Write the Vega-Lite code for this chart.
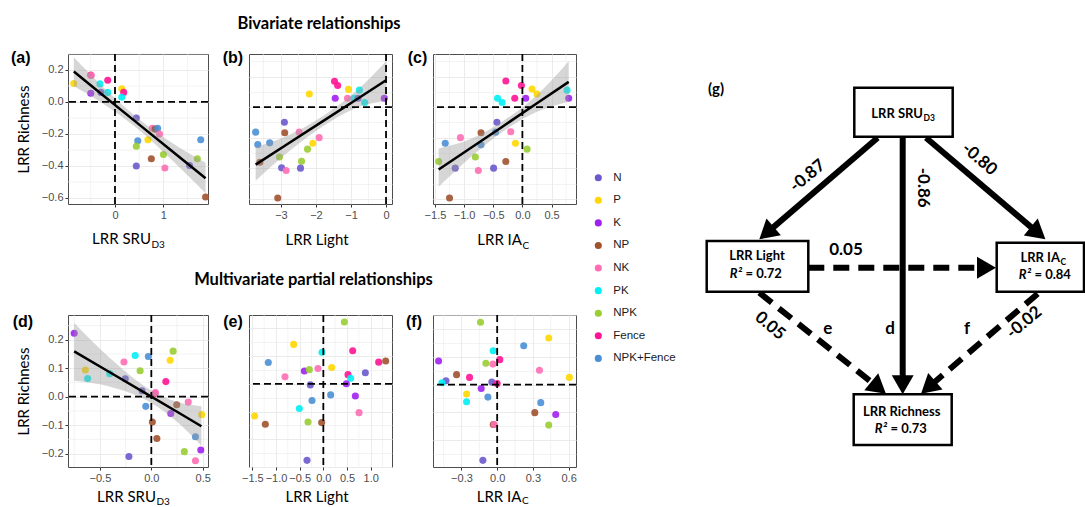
{
"$schema": "https://vega.github.io/schema/vega-lite/v6.json",
"padding": {"left": 10, "top": 15, "right": 0, "bottom": 0},
"background": "white",
"bounds": "flush",
"spacing": 513,
"config": {
  "font": "Liberation Sans",
  "view": {"stroke": "#4D4D4D", "strokeWidth": 1},
  "axis": {"domain": false, "tickCount": 30, "labelFont": "Liberation Sans", "labelFontSize": 11, "labelColor": "#4D4D4D", "tickColor": "#333333", "tickSize": 3, "tickWidth": 1, "labelPadding": 2, "gridColor": "#EBEBEB", "gridWidth": 1, "titleFont": "Lato", "titleFontSize": 15, "titleFontWeight": "normal", "titleColor": "#000000", "labelOverlap": false, "labelFlush": false}
},
"datasets": {
  "one": [{"v": 0}],
  "a_mx": [{"v": -0.5}, {"v": 0.5}, {"v": 1.5}],
  "a_my": [{"v": -0.5}, {"v": -0.3}, {"v": -0.1}, {"v": 0.1}, {"v": 0.3}],
  "b_mx": [{"v": -3.5}, {"v": -2.5}, {"v": -1.5}, {"v": -0.5}],
  "c_mx": [{"v": -1.25}, {"v": -0.75}, {"v": -0.25}, {"v": 0.25}, {"v": 0.75}],
  "d_mx": [{"v": -0.75}, {"v": -0.25}, {"v": 0.25}],
  "d_my": [{"v": -0.15}, {"v": -0.05}, {"v": 0.05}, {"v": 0.15}, {"v": 0.25}],
  "e_mx": [{"v": -1.25}, {"v": -0.75}, {"v": -0.25}, {"v": 0.25}, {"v": 0.75}, {"v": 1.25}],
  "f_mx": [{"v": -0.45}, {"v": -0.15}, {"v": 0.15}, {"v": 0.45}],
  "a": [
    {"x":-0.85,"y":0.115,"t":"P"},{"x":-0.50,"y":0.168,"t":"Fence"},{"x":-0.49,"y":0.166,"t":"NK"},{"x":-0.50,"y":0.055,"t":"K"},
    {"x":-0.31,"y":0.113,"t":"PK"},{"x":-0.29,"y":0.06,"t":"N"},{"x":-0.15,"y":0.136,"t":"Fence"},{"x":-0.15,"y":0.06,"t":"PK"},
    {"x":0.14,"y":0.083,"t":"P"},{"x":0.18,"y":0.06,"t":"Fence"},{"x":0.14,"y":0.03,"t":"PK"},{"x":0.44,"y":-0.10,"t":"N"},
    {"x":0.47,"y":-0.243,"t":"NPK+Fence"},{"x":0.44,"y":-0.277,"t":"NPK"},{"x":0.44,"y":-0.40,"t":"N"},{"x":0.68,"y":-0.236,"t":"P"},
    {"x":0.75,"y":-0.355,"t":"NP"},{"x":0.77,"y":-0.164,"t":"NK"},{"x":0.83,"y":-0.17,"t":"NP"},{"x":0.88,"y":-0.164,"t":"NPK+Fence"},
    {"x":0.92,"y":-0.20,"t":"NK"},{"x":1.0,"y":-0.328,"t":"NPK"},{"x":1.03,"y":-0.413,"t":"NK"},{"x":1.54,"y":-0.398,"t":"N"},
    {"x":1.70,"y":-0.355,"t":"NPK"},{"x":1.77,"y":-0.236,"t":"NPK+Fence"},{"x":1.87,"y":-0.594,"t":"NP"}
  ],
  "a_fit": [
    {"x":-0.85,"fit":0.19,"lo":0.098,"hi":0.28},{"x":-0.3,"fit":0.055,"lo":0.0,"hi":0.11},{"x":0.45,"fit":-0.129,"lo":-0.163,"hi":-0.095},
    {"x":1.2,"fit":-0.313,"lo":-0.37,"hi":-0.26},{"x":1.87,"fit":-0.477,"lo":-0.57,"hi":-0.38}
  ],
  "b": [
    {"x":-1.47,"y":0.169,"t":"Fence"},{"x":-1.38,"y":0.141,"t":"Fence"},{"x":-2.19,"y":0.086,"t":"P"},{"x":-1.45,"y":0.058,"t":"K"},
    {"x":-1.07,"y":0.116,"t":"P"},{"x":-0.76,"y":0.111,"t":"PK"},{"x":-1.10,"y":0.058,"t":"NK"},{"x":-0.91,"y":0.058,"t":"PK"},
    {"x":-0.80,"y":0.058,"t":"N"},{"x":-0.61,"y":0.03,"t":"PK"},{"x":-0.05,"y":0.058,"t":"K"},{"x":-2.90,"y":-0.098,"t":"N"},
    {"x":-3.72,"y":-0.163,"t":"NPK+Fence"},{"x":-2.89,"y":-0.167,"t":"NP"},{"x":-2.48,"y":-0.163,"t":"NK"},{"x":-3.66,"y":-0.244,"t":"NPK+Fence"},
    {"x":-3.32,"y":-0.233,"t":"NPK+Fence"},{"x":-1.91,"y":-0.199,"t":"NK"},{"x":-2.09,"y":-0.236,"t":"P"},{"x":-2.24,"y":-0.274,"t":"NPK"},
    {"x":-3.04,"y":-0.325,"t":"NPK"},{"x":-2.41,"y":-0.353,"t":"NPK"},{"x":-3.60,"y":-0.36,"t":"NP"},{"x":-2.98,"y":-0.396,"t":"N"},
    {"x":-2.85,"y":-0.413,"t":"NK"},{"x":-2.44,"y":-0.398,"t":"N"},{"x":-3.09,"y":-0.593,"t":"NP"}
  ],
  "b_fit": [
    {"x":-3.72,"fit":-0.375,"lo":-0.48,"hi":-0.26},{"x":-2.8,"fit":-0.239,"lo":-0.295,"hi":-0.185},{"x":-1.8,"fit":-0.091,"lo":-0.125,"hi":-0.057},
    {"x":-0.8,"fit":0.057,"lo":0.0,"hi":0.115},{"x":0.0,"fit":0.176,"lo":0.04,"hi":0.30}
  ],
  "c": [
    {"x":-0.284,"y":0.171,"t":"Fence"},{"x":-0.017,"y":0.141,"t":"Fence"},{"x":0.165,"y":0.118,"t":"P"},{"x":0.25,"y":0.086,"t":"P"},
    {"x":0.767,"y":0.111,"t":"PK"},{"x":0.795,"y":0.058,"t":"K"},{"x":-0.426,"y":0.058,"t":"PK"},{"x":-0.347,"y":0.03,"t":"PK"},
    {"x":-0.131,"y":0.058,"t":"Fence"},{"x":0.057,"y":0.058,"t":"K"},{"x":-0.437,"y":-0.098,"t":"N"},{"x":-0.71,"y":-0.167,"t":"NP"},
    {"x":-0.46,"y":-0.163,"t":"NPK+Fence"},{"x":-0.199,"y":-0.161,"t":"NK"},{"x":-1.324,"y":-0.236,"t":"NPK+Fence"},{"x":-1.063,"y":-0.199,"t":"NK"},
    {"x":-0.71,"y":-0.246,"t":"NPK+Fence"},{"x":-0.119,"y":-0.236,"t":"P"},{"x":0.08,"y":-0.274,"t":"NPK"},{"x":-0.807,"y":-0.325,"t":"NPK"},
    {"x":-1.437,"y":-0.355,"t":"NPK"},{"x":-1.153,"y":-0.398,"t":"N"},{"x":-0.756,"y":-0.413,"t":"NK"},{"x":-0.494,"y":-0.398,"t":"N"},
    {"x":-0.284,"y":-0.355,"t":"NP"},{"x":-1.25,"y":-0.593,"t":"NP"}
  ],
  "c_fit": [
    {"x":-1.437,"fit":-0.407,"lo":-0.52,"hi":-0.27},{"x":-0.9,"fit":-0.27,"lo":-0.33,"hi":-0.21},{"x":-0.35,"fit":-0.129,"lo":-0.163,"hi":-0.095},
    {"x":0.25,"fit":0.025,"lo":-0.03,"hi":0.08},{"x":0.795,"fit":0.165,"lo":0.036,"hi":0.30}
  ],
  "d": [
    {"x":-0.75,"y":0.223,"t":"K"},{"x":-0.641,"y":0.094,"t":"P"},{"x":-0.619,"y":0.064,"t":"PK"},{"x":-0.404,"y":0.081,"t":"PK"},
    {"x":-0.253,"y":0.063,"t":"N"},{"x":-0.266,"y":0.122,"t":"NK"},{"x":-0.157,"y":0.145,"t":"PK"},{"x":-0.109,"y":0.091,"t":"NPK"},
    {"x":-0.029,"y":0.141,"t":"NPK+Fence"},{"x":-0.09,"y":0.021,"t":"N"},{"x":-0.054,"y":-0.034,"t":"NPK+Fence"},{"x":0.035,"y":0.011,"t":"Fence"},
    {"x":0.04,"y":0.015,"t":"NK"},{"x":0.01,"y":-0.089,"t":"NP"},{"x":0.054,"y":-0.147,"t":"NP"},{"x":-0.218,"y":-0.21,"t":"N"},
    {"x":0.141,"y":0.053,"t":"Fence"},{"x":0.183,"y":0.128,"t":"P"},{"x":0.212,"y":0.16,"t":"NPK"},{"x":0.247,"y":-0.028,"t":"NP"},
    {"x":0.189,"y":-0.059,"t":"K"},{"x":0.359,"y":-0.019,"t":"NK"},{"x":0.49,"y":-0.063,"t":"P"},{"x":0.429,"y":-0.141,"t":"NPK+Fence"},
    {"x":0.321,"y":-0.193,"t":"NPK"},{"x":0.481,"y":-0.187,"t":"K"},{"x":0.429,"y":-0.225,"t":"NK"}
  ],
  "d_fit": [
    {"x":-0.75,"fit":0.159,"lo":0.056,"hi":0.259},{"x":-0.4,"fit":0.085,"lo":0.035,"hi":0.135},{"x":0.0,"fit":0.0,"lo":-0.022,"hi":0.022},
    {"x":0.25,"fit":-0.053,"lo":-0.088,"hi":-0.018},{"x":0.487,"fit":-0.104,"lo":-0.172,"hi":-0.034}
  ],
  "e": [
    {"x":0.444,"y":0.223,"t":"NPK"},{"x":-0.627,"y":0.142,"t":"P"},{"x":-0.028,"y":0.114,"t":"PK"},{"x":0.62,"y":0.119,"t":"Fence"},
    {"x":-1.162,"y":0.077,"t":"NPK+Fence"},{"x":1.169,"y":0.078,"t":"Fence"},{"x":1.317,"y":0.082,"t":"NP"},{"x":-0.401,"y":0.046,"t":"K"},
    {"x":-0.296,"y":0.051,"t":"NPK"},{"x":-0.113,"y":0.055,"t":"NK"},{"x":0.176,"y":0.059,"t":"P"},{"x":-0.81,"y":0.025,"t":"NK"},
    {"x":0.887,"y":0.04,"t":"N"},{"x":0.521,"y":0.033,"t":"Fence"},{"x":0.577,"y":0.02,"t":"PK"},{"x":-0.275,"y":-0.004,"t":"N"},
    {"x":0.486,"y":0.0,"t":"K"},{"x":0.155,"y":-0.04,"t":"NPK+Fence"},{"x":0.676,"y":-0.044,"t":"K"},{"x":-0.239,"y":-0.06,"t":"NPK+Fence"},
    {"x":-0.507,"y":-0.089,"t":"PK"},{"x":0.754,"y":-0.104,"t":"NK"},{"x":-1.451,"y":-0.116,"t":"P"},{"x":-1.225,"y":-0.146,"t":"NP"},
    {"x":-0.324,"y":-0.138,"t":"NPK"},{"x":-0.035,"y":-0.14,"t":"NP"},{"x":-0.345,"y":-0.276,"t":"N"}
  ],
  "f": [
    {"x":-0.14,"y":0.225,"t":"NPK"},{"x":0.433,"y":0.168,"t":"P"},{"x":0.223,"y":0.14,"t":"NPK+Fence"},{"x":-0.034,"y":0.122,"t":"PK"},
    {"x":-0.492,"y":0.085,"t":"K"},{"x":0.022,"y":0.09,"t":"Fence"},{"x":-0.095,"y":0.077,"t":"NPK"},{"x":-0.036,"y":0.074,"t":"NK"},
    {"x":0.355,"y":0.052,"t":"NK"},{"x":-0.341,"y":0.036,"t":"NP"},{"x":-0.232,"y":0.026,"t":"Fence"},{"x":-0.43,"y":0.014,"t":"N"},
    {"x":-0.464,"y":0.007,"t":"PK"},{"x":0.606,"y":0.026,"t":"P"},{"x":-0.045,"y":0.009,"t":"N"},{"x":0.0,"y":0.004,"t":"Fence"},
    {"x":-0.134,"y":-0.014,"t":"K"},{"x":-0.257,"y":-0.034,"t":"P"},{"x":-0.078,"y":-0.045,"t":"NPK+Fence"},{"x":-0.257,"y":-0.062,"t":"PK"},
    {"x":0.366,"y":-0.065,"t":"NPK+Fence"},{"x":0.316,"y":-0.101,"t":"NP"},{"x":0.492,"y":-0.108,"t":"K"},{"x":-0.033,"y":-0.144,"t":"NP"},
    {"x":-0.025,"y":-0.144,"t":"NK"},{"x":0.433,"y":-0.146,"t":"NPK"},{"x":-0.12,"y":-0.273,"t":"N"}
  ],
  "leg": [
    {"t":"N","pos":0},{"t":"P","pos":1},{"t":"K","pos":2},{"t":"NP","pos":3},{"t":"NK","pos":4},
    {"t":"PK","pos":5},{"t":"NPK","pos":6},{"t":"Fence","pos":7},{"t":"NPK+Fence","pos":8}
  ],
  "boxes": [
    {"x":853.3,"x2":951.7,"y":86.7,"y2":135.7},{"x":705.7,"x2":807.3,"y":240,"y2":290.7},
    {"x":995.7,"x2":1083,"y":241.7,"y2":290.7},{"x":852.7,"x2":950.7,"y":393.3,"y2":444}
  ],
  "edges": [
    {"id":"sl","type":"solid","x":876.7,"y":136.7,"x2":765.5,"y2":232.1},
    {"id":"si","type":"solid","x":925,"y":136.7,"x2":1037.1,"y2":232.1},
    {"id":"sr","type":"solid","x":901.7,"y":136.7,"x2":901.7,"y2":383.8},
    {"id":"li","type":"dashed","x":807.3,"y":266.7,"x2":985.5,"y2":266.7},
    {"id":"lr","type":"dashed","x":758.3,"y":291.7,"x2":877.6,"y2":386.8},
    {"id":"ir","type":"dashed","x":1036.7,"y":292.7,"x2":927.2,"y2":386.5}
  ],
  "dlab": [
    {"t":"0.05","x":845,"y":249,"edge":"li"},{"t":"e","x":826.7,"y":328.3,"edge":"e"},{"t":"d","x":889,"y":328.3,"edge":"d"},
    {"t":"f","x":966,"y":328.3,"edge":"f"},{"t":"-0.87","x":806.7,"y":175,"edge":"sl"},{"t":"-0.02","x":1023.3,"y":321.7,"edge":"ir"},
    {"t":"-0.86","x":922,"y":186.7,"edge":"sr"},{"t":"-0.80","x":978.3,"y":158.3,"edge":"si"},{"t":"0.05","x":769,"y":325,"edge":"lr"},
    {"t":"(g)","x":715,"y":88.3,"edge":"g"}
  ],
  "btext": [
    {"t":"LRR Light","x":756,"y":255,"role":"c"},{"t":"LRR Richness","x":900.7,"y":410.7,"role":"c"},
    {"t":"LRR SRU","x":922,"y":112.7,"role":"r"},{"t":"D3","x":922.5,"y":116.5,"role":"sub"},
    {"t":"LRR IA","x":1059,"y":256.7,"role":"r"},{"t":"C","x":1059.5,"y":260.5,"role":"sub"},
    {"t":"R²","x":741,"y":273.3,"role":"ri"},{"t":"= 0.72","x":744.5,"y":273.3,"role":"l"},
    {"t":"R²","x":1030,"y":274,"role":"ri"},{"t":"= 0.84","x":1033.5,"y":274,"role":"l"},
    {"t":"R²","x":886,"y":428.3,"role":"ri"},{"t":"= 0.73","x":889.5,"y":428.3,"role":"l"}
  ]
},
"hconcat": [
 {"vconcat": [
  {"bounds": "flush", "spacing": 41,
   "hconcat": [
    {"width": 140, "height": 150,
     "layer": [
      {"data": {"name": "a_mx"}, "mark": {"type": "rule", "color": "#EBEBEB", "strokeWidth": 0.6},
       "encoding": {"x": {"field": "v", "type": "quantitative", "scale": {"domain": [-0.97, 1.92], "nice": false, "zero": false}}}},
      {"data": {"name": "a_my"}, "mark": {"type": "rule", "color": "#EBEBEB", "strokeWidth": 0.6},
       "encoding": {"y": {"field": "v", "type": "quantitative", "scale": {"domain": [-0.638, 0.30], "nice": false, "zero": false}}}},
      {"data": {"name": "a"}, "mark": {"type": "circle", "size": 50, "opacity": 0.9},
       "encoding": {
        "x": {"field": "x", "type": "quantitative", "scale": {"domain": [-0.97, 1.92], "nice": false, "zero": false},
              "axis": {"title": null, "tickCount": 30, "labelOverlap": false, "labelFlush": false, "values": [0, 1], "format": ".0f"}},
        "y": {"field": "y", "type": "quantitative", "scale": {"domain": [-0.638, 0.30], "nice": false, "zero": false},
              "axis": {"title": "LRR Richness", "titlePadding": 10, "tickCount": 30, "labelOverlap": false, "labelFlush": false, "values": [-0.6, -0.4, -0.2, 0, 0.2], "format": ".1f"}},
        "color": {"field": "t", "type": "nominal", "scale": {"domain": ["N","P","K","NP","NK","PK","NPK","Fence","NPK+Fence"], "range": ["#6A5ACD","#FFD700","#A020F0","#A0522D","#FF6EB4","#00F0F5","#9ACD32","#FF1493","#4A8FD6"]}, "legend": null}}},
      {"data": {"name": "a_fit"}, "mark": {"type": "area", "color": "#999999", "opacity": 0.4, "interpolate": "monotone"},
       "encoding": {"x": {"field": "x", "type": "quantitative", "scale": {"domain": [-0.97, 1.92], "nice": false, "zero": false}},
                    "y": {"field": "lo", "type": "quantitative", "scale": {"domain": [-0.638, 0.30], "nice": false, "zero": false}},
                    "y2": {"field": "hi"}}},
      {"data": {"name": "one"}, "mark": {"type": "rule", "color": "black", "strokeWidth": 1.8, "strokeDash": [7, 4]},
       "encoding": {"x": {"field": "v", "type": "quantitative", "scale": {"domain": [-0.97, 1.92], "nice": false, "zero": false}}}},
      {"data": {"name": "one"}, "mark": {"type": "rule", "color": "black", "strokeWidth": 1.8, "strokeDash": [7, 4]},
       "encoding": {"y": {"field": "v", "type": "quantitative", "scale": {"domain": [-0.638, 0.30], "nice": false, "zero": false}}}},
      {"data": {"name": "a_fit"}, "mark": {"type": "line", "color": "black", "strokeWidth": 2.5},
       "encoding": {"x": {"field": "x", "type": "quantitative", "scale": {"domain": [-0.97, 1.92], "nice": false, "zero": false}},
                    "y": {"field": "fit", "type": "quantitative", "scale": {"domain": [-0.638, 0.30], "nice": false, "zero": false}}}},
      {"data": {"name": "one"}, "mark": {"type": "text", "text": "LRR SRU", "align": "right", "baseline": "alphabetic", "font": "Lato", "fontSize": 15, "color": "black"},
       "encoding": {"x": {"datum": 0.743, "type": "quantitative", "scale": {"domain": [-0.97, 1.92], "nice": false, "zero": false}},
                    "y": {"datum": -0.89, "type": "quantitative", "scale": {"domain": [-0.638, 0.30], "nice": false, "zero": false}}}},
      {"data": {"name": "one"}, "mark": {"type": "text", "text": "D3", "align": "left", "baseline": "alphabetic", "font": "Lato", "fontSize": 10, "color": "black"},
       "encoding": {"x": {"datum": 0.753, "type": "quantitative", "scale": {"domain": [-0.97, 1.92], "nice": false, "zero": false}},
                    "y": {"datum": -0.913, "type": "quantitative", "scale": {"domain": [-0.638, 0.30], "nice": false, "zero": false}}}},
      {"data": {"name": "one"}, "mark": {"type": "text", "text": "(a)", "align": "left", "baseline": "alphabetic", "font": "Liberation Sans", "fontWeight": "bold", "fontSize": 16, "color": "black"},
       "encoding": {"x": {"datum": -2.147, "type": "quantitative", "scale": {"domain": [-0.97, 1.92], "nice": false, "zero": false}},
                    "y": {"datum": 0.2437, "type": "quantitative", "scale": {"domain": [-0.638, 0.30], "nice": false, "zero": false}}}}
     ]},
    {"width": 143, "height": 150,
     "layer": [
      {"data": {"name": "b_mx"}, "mark": {"type": "rule", "color": "#EBEBEB", "strokeWidth": 0.6},
       "encoding": {"x": {"field": "v", "type": "quantitative", "scale": {"domain": [-3.91, 0.17], "nice": false, "zero": false}}}},
      {"data": {"name": "b"}, "mark": {"type": "circle", "size": 50, "opacity": 0.9},
       "encoding": {
        "x": {"field": "x", "type": "quantitative", "scale": {"domain": [-3.91, 0.17], "nice": false, "zero": false},
              "axis": {"title": null, "tickCount": 30, "labelOverlap": false, "labelFlush": false, "values": [-3, -2, -1, 0], "format": ".0f"}},
        "y": {"field": "y", "type": "quantitative", "scale": {"domain": [-0.632, 0.347], "nice": false, "zero": false},
              "axis": {"title": null, "labels": false, "ticks": false, "tickCount": 30, "values": [-0.6, -0.5, -0.4, -0.3, -0.2, -0.1, 0, 0.1, 0.2, 0.3],
                       "gridWidth": {"condition": {"test": "abs(datum.value/0.2-round(datum.value/0.2))<0.001", "value": 1}, "value": 0.6}}},
        "color": {"field": "t", "type": "nominal", "scale": {"domain": ["N","P","K","NP","NK","PK","NPK","Fence","NPK+Fence"], "range": ["#6A5ACD","#FFD700","#A020F0","#A0522D","#FF6EB4","#00F0F5","#9ACD32","#FF1493","#4A8FD6"]}, "legend": null}}},
      {"data": {"name": "b_fit"}, "mark": {"type": "area", "color": "#999999", "opacity": 0.4, "interpolate": "monotone"},
       "encoding": {"x": {"field": "x", "type": "quantitative", "scale": {"domain": [-3.91, 0.17], "nice": false, "zero": false}},
                    "y": {"field": "lo", "type": "quantitative", "scale": {"domain": [-0.632, 0.347], "nice": false, "zero": false}},
                    "y2": {"field": "hi"}}},
      {"data": {"name": "one"}, "mark": {"type": "rule", "color": "black", "strokeWidth": 1.8, "strokeDash": [7, 4]},
       "encoding": {"x": {"field": "v", "type": "quantitative", "scale": {"domain": [-3.91, 0.17], "nice": false, "zero": false}}}},
      {"data": {"name": "one"}, "mark": {"type": "rule", "color": "black", "strokeWidth": 1.8, "strokeDash": [7, 4]},
       "encoding": {"y": {"field": "v", "type": "quantitative", "scale": {"domain": [-0.632, 0.347], "nice": false, "zero": false}}}},
      {"data": {"name": "b_fit"}, "mark": {"type": "line", "color": "black", "strokeWidth": 2.5},
       "encoding": {"x": {"field": "x", "type": "quantitative", "scale": {"domain": [-3.91, 0.17], "nice": false, "zero": false}},
                    "y": {"field": "fit", "type": "quantitative", "scale": {"domain": [-0.632, 0.347], "nice": false, "zero": false}}}},
      {"data": {"name": "one"}, "mark": {"type": "text", "text": "LRR Light", "align": "center", "baseline": "alphabetic", "font": "Lato", "fontSize": 15, "color": "black"},
       "encoding": {"x": {"datum": -1.97, "type": "quantitative", "scale": {"domain": [-3.91, 0.17], "nice": false, "zero": false}},
                    "y": {"datum": -0.90, "type": "quantitative", "scale": {"domain": [-0.632, 0.347], "nice": false, "zero": false}}}},
      {"data": {"name": "one"}, "mark": {"type": "text", "text": "(b)", "align": "left", "baseline": "alphabetic", "font": "Liberation Sans", "fontWeight": "bold", "fontSize": 16, "color": "black"},
       "encoding": {"x": {"datum": -4.66, "type": "quantitative", "scale": {"domain": [-3.91, 0.17], "nice": false, "zero": false}},
                    "y": {"datum": 0.288, "type": "quantitative", "scale": {"domain": [-0.632, 0.347], "nice": false, "zero": false}}}},
      {"data": {"name": "one"}, "mark": {"type": "text", "text": "Bivariate relationships", "align": "center", "baseline": "alphabetic", "font": "Lato", "fontWeight": "bold", "fontSize": 16.5, "color": "black"},
       "encoding": {"x": {"datum": -1.913, "type": "quantitative", "scale": {"domain": [-3.91, 0.17], "nice": false, "zero": false}},
                    "y": {"datum": 0.508, "type": "quantitative", "scale": {"domain": [-0.632, 0.347], "nice": false, "zero": false}}}}
     ]},
    {"width": 143, "height": 150,
     "layer": [
      {"data": {"name": "c_mx"}, "mark": {"type": "rule", "color": "#EBEBEB", "strokeWidth": 0.6},
       "encoding": {"x": {"field": "v", "type": "quantitative", "scale": {"domain": [-1.534, 0.92], "nice": false, "zero": false}}}},
      {"data": {"name": "c"}, "mark": {"type": "circle", "size": 50, "opacity": 0.9},
       "encoding": {
        "x": {"field": "x", "type": "quantitative", "scale": {"domain": [-1.534, 0.92], "nice": false, "zero": false},
              "axis": {"title": null, "tickCount": 30, "labelOverlap": false, "labelFlush": false, "values": [-1.5, -1, -0.5, 0, 0.5], "format": ".1f"}},
        "y": {"field": "y", "type": "quantitative", "scale": {"domain": [-0.632, 0.347], "nice": false, "zero": false},
              "axis": {"title": null, "labels": false, "ticks": false, "tickCount": 30, "values": [-0.6, -0.5, -0.4, -0.3, -0.2, -0.1, 0, 0.1, 0.2, 0.3],
                       "gridWidth": {"condition": {"test": "abs(datum.value/0.2-round(datum.value/0.2))<0.001", "value": 1}, "value": 0.6}}},
        "color": {"field": "t", "type": "nominal", "scale": {"domain": ["N","P","K","NP","NK","PK","NPK","Fence","NPK+Fence"], "range": ["#6A5ACD","#FFD700","#A020F0","#A0522D","#FF6EB4","#00F0F5","#9ACD32","#FF1493","#4A8FD6"]}, "legend": null}}},
      {"data": {"name": "c_fit"}, "mark": {"type": "area", "color": "#999999", "opacity": 0.4, "interpolate": "monotone"},
       "encoding": {"x": {"field": "x", "type": "quantitative", "scale": {"domain": [-1.534, 0.92], "nice": false, "zero": false}},
                    "y": {"field": "lo", "type": "quantitative", "scale": {"domain": [-0.632, 0.347], "nice": false, "zero": false}},
                    "y2": {"field": "hi"}}},
      {"data": {"name": "one"}, "mark": {"type": "rule", "color": "black", "strokeWidth": 1.8, "strokeDash": [7, 4]},
       "encoding": {"x": {"field": "v", "type": "quantitative", "scale": {"domain": [-1.534, 0.92], "nice": false, "zero": false}}}},
      {"data": {"name": "one"}, "mark": {"type": "rule", "color": "black", "strokeWidth": 1.8, "strokeDash": [7, 4]},
       "encoding": {"y": {"field": "v", "type": "quantitative", "scale": {"domain": [-0.632, 0.347], "nice": false, "zero": false}}}},
      {"data": {"name": "c_fit"}, "mark": {"type": "line", "color": "black", "strokeWidth": 2.5},
       "encoding": {"x": {"field": "x", "type": "quantitative", "scale": {"domain": [-1.534, 0.92], "nice": false, "zero": false}},
                    "y": {"field": "fit", "type": "quantitative", "scale": {"domain": [-0.632, 0.347], "nice": false, "zero": false}}}},
      {"data": {"name": "one"}, "mark": {"type": "text", "text": "LRR IA", "align": "right", "baseline": "alphabetic", "font": "Lato", "fontSize": 15, "color": "black"},
       "encoding": {"x": {"datum": -0.007, "type": "quantitative", "scale": {"domain": [-1.534, 0.92], "nice": false, "zero": false}},
                    "y": {"datum": -0.90, "type": "quantitative", "scale": {"domain": [-0.632, 0.347], "nice": false, "zero": false}}}},
      {"data": {"name": "one"}, "mark": {"type": "text", "text": "C", "align": "left", "baseline": "alphabetic", "font": "Lato", "fontSize": 10, "color": "black"},
       "encoding": {"x": {"datum": 0.002, "type": "quantitative", "scale": {"domain": [-1.534, 0.92], "nice": false, "zero": false}},
                    "y": {"datum": -0.923, "type": "quantitative", "scale": {"domain": [-0.632, 0.347], "nice": false, "zero": false}}}},
      {"data": {"name": "one"}, "mark": {"type": "text", "text": "(c)", "align": "left", "baseline": "alphabetic", "font": "Liberation Sans", "fontWeight": "bold", "fontSize": 16, "color": "black"},
       "encoding": {"x": {"datum": -1.968, "type": "quantitative", "scale": {"domain": [-1.534, 0.92], "nice": false, "zero": false}},
                    "y": {"datum": 0.288, "type": "quantitative", "scale": {"domain": [-0.632, 0.347], "nice": false, "zero": false}}}}
     ]}
   ]},
  {"bounds": "flush", "spacing": 41,
   "hconcat": [
    {"width": 140, "height": 152,
     "layer": [
      {"data": {"name": "d_mx"}, "mark": {"type": "rule", "color": "#EBEBEB", "strokeWidth": 0.6},
       "encoding": {"x": {"field": "v", "type": "quantitative", "scale": {"domain": [-0.81, 0.551], "nice": false, "zero": false}}}},
      {"data": {"name": "d_my"}, "mark": {"type": "rule", "color": "#EBEBEB", "strokeWidth": 0.6},
       "encoding": {"y": {"field": "v", "type": "quantitative", "scale": {"domain": [-0.247, 0.287], "nice": false, "zero": false}}}},
      {"data": {"name": "d"}, "mark": {"type": "circle", "size": 50, "opacity": 0.9},
       "encoding": {
        "x": {"field": "x", "type": "quantitative", "scale": {"domain": [-0.81, 0.551], "nice": false, "zero": false},
              "axis": {"title": null, "tickCount": 30, "labelOverlap": false, "labelFlush": false, "values": [-0.5, 0, 0.5], "format": ".1f"}},
        "y": {"field": "y", "type": "quantitative", "scale": {"domain": [-0.247, 0.287], "nice": false, "zero": false},
              "axis": {"title": "LRR Richness", "titlePadding": 10, "tickCount": 30, "labelOverlap": false, "labelFlush": false, "values": [-0.2, -0.1, 0, 0.1, 0.2], "format": ".1f"}},
        "color": {"field": "t", "type": "nominal", "scale": {"domain": ["N","P","K","NP","NK","PK","NPK","Fence","NPK+Fence"], "range": ["#6A5ACD","#FFD700","#A020F0","#A0522D","#FF6EB4","#00F0F5","#9ACD32","#FF1493","#4A8FD6"]}, "legend": null}}},
      {"data": {"name": "d_fit"}, "mark": {"type": "area", "color": "#999999", "opacity": 0.4, "interpolate": "monotone"},
       "encoding": {"x": {"field": "x", "type": "quantitative", "scale": {"domain": [-0.81, 0.551], "nice": false, "zero": false}},
                    "y": {"field": "lo", "type": "quantitative", "scale": {"domain": [-0.247, 0.287], "nice": false, "zero": false}},
                    "y2": {"field": "hi"}}},
      {"data": {"name": "one"}, "mark": {"type": "rule", "color": "black", "strokeWidth": 1.8, "strokeDash": [7, 4]},
       "encoding": {"x": {"field": "v", "type": "quantitative", "scale": {"domain": [-0.81, 0.551], "nice": false, "zero": false}}}},
      {"data": {"name": "one"}, "mark": {"type": "rule", "color": "black", "strokeWidth": 1.8, "strokeDash": [7, 4]},
       "encoding": {"y": {"field": "v", "type": "quantitative", "scale": {"domain": [-0.247, 0.287], "nice": false, "zero": false}}}},
      {"data": {"name": "d_fit"}, "mark": {"type": "line", "color": "black", "strokeWidth": 2.5},
       "encoding": {"x": {"field": "x", "type": "quantitative", "scale": {"domain": [-0.81, 0.551], "nice": false, "zero": false}},
                    "y": {"field": "fit", "type": "quantitative", "scale": {"domain": [-0.247, 0.287], "nice": false, "zero": false}}}},
      {"data": {"name": "one"}, "mark": {"type": "text", "text": "LRR SRU", "align": "right", "baseline": "alphabetic", "font": "Lato", "fontSize": 15, "color": "black"},
       "encoding": {"x": {"datum": 0.045, "type": "quantitative", "scale": {"domain": [-0.81, 0.551], "nice": false, "zero": false}},
                    "y": {"datum": -0.370, "type": "quantitative", "scale": {"domain": [-0.247, 0.287], "nice": false, "zero": false}}}},
      {"data": {"name": "one"}, "mark": {"type": "text", "text": "D3", "align": "left", "baseline": "alphabetic", "font": "Lato", "fontSize": 10, "color": "black"},
       "encoding": {"x": {"datum": 0.05, "type": "quantitative", "scale": {"domain": [-0.81, 0.551], "nice": false, "zero": false}},
                    "y": {"datum": -0.379, "type": "quantitative", "scale": {"domain": [-0.247, 0.287], "nice": false, "zero": false}}}},
      {"data": {"name": "one"}, "mark": {"type": "text", "text": "(d)", "align": "left", "baseline": "alphabetic", "font": "Liberation Sans", "fontWeight": "bold", "fontSize": 16, "color": "black"},
       "encoding": {"x": {"datum": -1.347, "type": "quantitative", "scale": {"domain": [-0.81, 0.551], "nice": false, "zero": false}},
                    "y": {"datum": 0.2448, "type": "quantitative", "scale": {"domain": [-0.247, 0.287], "nice": false, "zero": false}}}}
     ]},
    {"width": 143, "height": 152,
     "layer": [
      {"data": {"name": "e_mx"}, "mark": {"type": "rule", "color": "#EBEBEB", "strokeWidth": 0.6},
       "encoding": {"x": {"field": "v", "type": "quantitative", "scale": {"domain": [-1.57, 1.45], "nice": false, "zero": false}}}},
      {"data": {"name": "e"}, "mark": {"type": "circle", "size": 50, "opacity": 0.9},
       "encoding": {
        "x": {"field": "x", "type": "quantitative", "scale": {"domain": [-1.57, 1.45], "nice": false, "zero": false},
              "axis": {"title": null, "tickCount": 30, "labelOverlap": false, "labelFlush": false, "values": [-1.5, -1, -0.5, 0, 0.5, 1], "format": ".1f"}},
        "y": {"field": "y", "type": "quantitative", "scale": {"domain": [-0.30, 0.248], "nice": false, "zero": false},
              "axis": {"title": null, "labels": false, "ticks": false, "tickCount": 30, "values": [-0.3, -0.25, -0.2, -0.15, -0.1, -0.05, 0, 0.05, 0.1, 0.15, 0.2],
                       "gridWidth": {"condition": {"test": "abs(datum.value/0.1-round(datum.value/0.1))<0.001", "value": 1}, "value": 0.6}}},
        "color": {"field": "t", "type": "nominal", "scale": {"domain": ["N","P","K","NP","NK","PK","NPK","Fence","NPK+Fence"], "range": ["#6A5ACD","#FFD700","#A020F0","#A0522D","#FF6EB4","#00F0F5","#9ACD32","#FF1493","#4A8FD6"]}, "legend": null}}},
      {"data": {"name": "one"}, "mark": {"type": "rule", "color": "black", "strokeWidth": 1.8, "strokeDash": [7, 4]},
       "encoding": {"x": {"field": "v", "type": "quantitative", "scale": {"domain": [-1.57, 1.45], "nice": false, "zero": false}}}},
      {"data": {"name": "one"}, "mark": {"type": "rule", "color": "black", "strokeWidth": 1.8, "strokeDash": [7, 4]},
       "encoding": {"y": {"field": "v", "type": "quantitative", "scale": {"domain": [-0.30, 0.248], "nice": false, "zero": false}}}},
      {"data": {"name": "one"}, "mark": {"type": "text", "text": "LRR Light", "align": "center", "baseline": "alphabetic", "font": "Lato", "fontSize": 15, "color": "black"},
       "encoding": {"x": {"datum": -0.134, "type": "quantitative", "scale": {"domain": [-1.57, 1.45], "nice": false, "zero": false}},
                    "y": {"datum": -0.426, "type": "quantitative", "scale": {"domain": [-0.30, 0.248], "nice": false, "zero": false}}}},
      {"data": {"name": "one"}, "mark": {"type": "text", "text": "(e)", "align": "left", "baseline": "alphabetic", "font": "Liberation Sans", "fontWeight": "bold", "fontSize": 16, "color": "black"},
       "encoding": {"x": {"datum": -2.113, "type": "quantitative", "scale": {"domain": [-1.57, 1.45], "nice": false, "zero": false}},
                    "y": {"datum": 0.2047, "type": "quantitative", "scale": {"domain": [-0.30, 0.248], "nice": false, "zero": false}}}},
      {"data": {"name": "one"}, "mark": {"type": "text", "text": "Multivariate partial relationships", "align": "center", "baseline": "alphabetic", "font": "Lato", "fontWeight": "bold", "fontSize": 16.5, "color": "black"},
       "encoding": {"x": {"datum": -0.208, "type": "quantitative", "scale": {"domain": [-1.57, 1.45], "nice": false, "zero": false}},
                    "y": {"datum": 0.356, "type": "quantitative", "scale": {"domain": [-0.30, 0.248], "nice": false, "zero": false}}}}
     ]},
    {"width": 143, "height": 152,
     "layer": [
      {"data": {"name": "f_mx"}, "mark": {"type": "rule", "color": "#EBEBEB", "strokeWidth": 0.6},
       "encoding": {"x": {"field": "v", "type": "quantitative", "scale": {"domain": [-0.539, 0.662], "nice": false, "zero": false}}}},
      {"data": {"name": "f"}, "mark": {"type": "circle", "size": 50, "opacity": 0.9},
       "encoding": {
        "x": {"field": "x", "type": "quantitative", "scale": {"domain": [-0.539, 0.662], "nice": false, "zero": false},
              "axis": {"title": null, "tickCount": 30, "labelOverlap": false, "labelFlush": false, "values": [-0.3, 0, 0.3, 0.6], "format": ".1f"}},
        "y": {"field": "y", "type": "quantitative", "scale": {"domain": [-0.297, 0.251], "nice": false, "zero": false},
              "axis": {"title": null, "labels": false, "ticks": false, "tickCount": 30, "values": [-0.25, -0.2, -0.15, -0.1, -0.05, 0, 0.05, 0.1, 0.15, 0.2, 0.25],
                       "gridWidth": {"condition": {"test": "abs(datum.value/0.1-round(datum.value/0.1))<0.001", "value": 1}, "value": 0.6}}},
        "color": {"field": "t", "type": "nominal", "scale": {"domain": ["N","P","K","NP","NK","PK","NPK","Fence","NPK+Fence"], "range": ["#6A5ACD","#FFD700","#A020F0","#A0522D","#FF6EB4","#00F0F5","#9ACD32","#FF1493","#4A8FD6"]}, "legend": null}}},
      {"data": {"name": "one"}, "mark": {"type": "rule", "color": "black", "strokeWidth": 1.8, "strokeDash": [7, 4]},
       "encoding": {"x": {"field": "v", "type": "quantitative", "scale": {"domain": [-0.539, 0.662], "nice": false, "zero": false}}}},
      {"data": {"name": "one"}, "mark": {"type": "rule", "color": "black", "strokeWidth": 1.8, "strokeDash": [7, 4]},
       "encoding": {"y": {"field": "v", "type": "quantitative", "scale": {"domain": [-0.297, 0.251], "nice": false, "zero": false}}}},
      {"data": {"name": "one"}, "mark": {"type": "text", "text": "LRR IA", "align": "right", "baseline": "alphabetic", "font": "Lato", "fontSize": 15, "color": "black"},
       "encoding": {"x": {"datum": 0.204, "type": "quantitative", "scale": {"domain": [-0.539, 0.662], "nice": false, "zero": false}},
                    "y": {"datum": -0.423, "type": "quantitative", "scale": {"domain": [-0.297, 0.251], "nice": false, "zero": false}}}},
      {"data": {"name": "one"}, "mark": {"type": "text", "text": "C", "align": "left", "baseline": "alphabetic", "font": "Lato", "fontSize": 10, "color": "black"},
       "encoding": {"x": {"datum": 0.208, "type": "quantitative", "scale": {"domain": [-0.539, 0.662], "nice": false, "zero": false}},
                    "y": {"datum": -0.432, "type": "quantitative", "scale": {"domain": [-0.297, 0.251], "nice": false, "zero": false}}}},
      {"data": {"name": "one"}, "mark": {"type": "text", "text": "(f)", "align": "left", "baseline": "alphabetic", "font": "Liberation Sans", "fontWeight": "bold", "fontSize": 16, "color": "black"},
       "encoding": {"x": {"datum": -0.766, "type": "quantitative", "scale": {"domain": [-0.539, 0.662], "nice": false, "zero": false}},
                    "y": {"datum": 0.2077, "type": "quantitative", "scale": {"domain": [-0.297, 0.251], "nice": false, "zero": false}}}}
     ]}
   ]}
 ], "spacing": 261, "bounds": "flush"},
 {"hconcat": [
  {"width": 105, "height": 413, "view": {"stroke": null},
   "data": {"name": "leg"},
   "layer": [
    {"mark": {"type": "circle", "size": 50, "opacity": 1},
     "encoding": {"x": {"datum": 17.3, "type": "quantitative", "scale": {"domain": [0, 105], "nice": false, "zero": false}, "axis": null},
                  "y": {"field": "pos", "type": "quantitative", "scale": {"domain": [-5.478, 12.81], "reverse": true, "nice": false, "zero": false}, "axis": null},
                  "color": {"field": "t", "type": "nominal", "scale": {"domain": ["N","P","K","NP","NK","PK","NPK","Fence","NPK+Fence"], "range": ["#6A5ACD","#FFD700","#A020F0","#A0522D","#FF6EB4","#00F0F5","#9ACD32","#FF1493","#4A8FD6"]}, "legend": null}}},
    {"mark": {"type": "text", "align": "left", "baseline": "middle", "font": "Liberation Sans", "fontSize": 11.5, "color": "#1A1A1A"},
     "encoding": {"x": {"datum": 32.3, "type": "quantitative", "scale": {"domain": [0, 105], "nice": false, "zero": false}, "axis": null},
                  "y": {"field": "pos", "type": "quantitative", "scale": {"domain": [-5.478, 12.81], "reverse": true, "nice": false, "zero": false}, "axis": null},
                  "text": {"field": "t"}}}
   ]},
  {"width": 395, "height": 413, "view": {"stroke": null},
   "layer": [
    {"data": {"name": "edges"}, "transform": [{"filter": "datum.type === 'solid'"}],
     "mark": {"type": "rule", "color": "black", "strokeWidth": 6, "strokeCap": "butt"},
     "encoding": {"x": {"field": "x", "type": "quantitative", "scale": {"domain": [690, 1085], "nice": false, "zero": false}, "axis": null},
                  "y": {"field": "y", "type": "quantitative", "scale": {"domain": [53, 466], "reverse": true, "nice": false, "zero": false}, "axis": null},
                  "x2": {"field": "x2"}, "y2": {"field": "y2"}}},
    {"data": {"name": "edges"}, "transform": [{"filter": "datum.type === 'dashed'"}],
     "mark": {"type": "rule", "color": "black", "strokeWidth": 6, "strokeCap": "butt", "strokeDash": [16, 9]},
     "encoding": {"x": {"field": "x", "type": "quantitative", "scale": {"domain": [690, 1085], "nice": false, "zero": false}, "axis": null},
                  "y": {"field": "y", "type": "quantitative", "scale": {"domain": [53, 466], "reverse": true, "nice": false, "zero": false}, "axis": null},
                  "x2": {"field": "x2"}, "y2": {"field": "y2"}}},
    {"data": {"name": "edges"}, "transform": [{"filter": {"field": "id", "oneOf": ["sl", "ir"]}}],
     "mark": {"type": "point", "shape": "triangle-up", "filled": true, "color": "black", "opacity": 1, "size": 480, "angle": 229},
     "encoding": {"x": {"field": "x2", "type": "quantitative", "scale": {"domain": [690, 1085], "nice": false, "zero": false}, "axis": null},
                  "y": {"field": "y2", "type": "quantitative", "scale": {"domain": [53, 466], "reverse": true, "nice": false, "zero": false}, "axis": null}}},
    {"data": {"name": "edges"}, "transform": [{"filter": {"field": "id", "oneOf": ["si", "lr"]}}],
     "mark": {"type": "point", "shape": "triangle-up", "filled": true, "color": "black", "opacity": 1, "size": 480, "angle": 129.5},
     "encoding": {"x": {"field": "x2", "type": "quantitative", "scale": {"domain": [690, 1085], "nice": false, "zero": false}, "axis": null},
                  "y": {"field": "y2", "type": "quantitative", "scale": {"domain": [53, 466], "reverse": true, "nice": false, "zero": false}, "axis": null}}},
    {"data": {"name": "edges"}, "transform": [{"filter": {"field": "id", "oneOf": ["sr"]}}],
     "mark": {"type": "point", "shape": "triangle-up", "filled": true, "color": "black", "opacity": 1, "size": 480, "angle": 180},
     "encoding": {"x": {"field": "x2", "type": "quantitative", "scale": {"domain": [690, 1085], "nice": false, "zero": false}, "axis": null},
                  "y": {"field": "y2", "type": "quantitative", "scale": {"domain": [53, 466], "reverse": true, "nice": false, "zero": false}, "axis": null}}},
    {"data": {"name": "edges"}, "transform": [{"filter": {"field": "id", "oneOf": ["li"]}}],
     "mark": {"type": "point", "shape": "triangle-up", "filled": true, "color": "black", "opacity": 1, "size": 480, "angle": 90},
     "encoding": {"x": {"field": "x2", "type": "quantitative", "scale": {"domain": [690, 1085], "nice": false, "zero": false}, "axis": null},
                  "y": {"field": "y2", "type": "quantitative", "scale": {"domain": [53, 466], "reverse": true, "nice": false, "zero": false}, "axis": null}}},
    {"data": {"name": "boxes"},
     "mark": {"type": "rect", "fill": "white", "stroke": "black", "strokeWidth": 2.5},
     "encoding": {"x": {"field": "x", "type": "quantitative", "scale": {"domain": [690, 1085], "nice": false, "zero": false}, "axis": null},
                  "y": {"field": "y", "type": "quantitative", "scale": {"domain": [53, 466], "reverse": true, "nice": false, "zero": false}, "axis": null},
                  "x2": {"field": "x2"}, "y2": {"field": "y2"}}},
    {"data": {"name": "btext"}, "transform": [{"filter": {"field": "role", "equal": "c"}}],
     "mark": {"type": "text", "align": "center", "baseline": "middle", "font": "Lato", "fontWeight": "bold", "fontSize": 13, "color": "black"},
     "encoding": {"x": {"field": "x", "type": "quantitative", "scale": {"domain": [690, 1085], "nice": false, "zero": false}, "axis": null},
                  "y": {"field": "y", "type": "quantitative", "scale": {"domain": [53, 466], "reverse": true, "nice": false, "zero": false}, "axis": null},
                  "text": {"field": "t"}}},
    {"data": {"name": "btext"}, "transform": [{"filter": {"field": "role", "equal": "r"}}],
     "mark": {"type": "text", "align": "right", "baseline": "middle", "font": "Lato", "fontWeight": "bold", "fontSize": 13, "color": "black"},
     "encoding": {"x": {"field": "x", "type": "quantitative", "scale": {"domain": [690, 1085], "nice": false, "zero": false}, "axis": null},
                  "y": {"field": "y", "type": "quantitative", "scale": {"domain": [53, 466], "reverse": true, "nice": false, "zero": false}, "axis": null},
                  "text": {"field": "t"}}},
    {"data": {"name": "btext"}, "transform": [{"filter": {"field": "role", "equal": "sub"}}],
     "mark": {"type": "text", "align": "left", "baseline": "middle", "font": "Lato", "fontWeight": "bold", "fontSize": 8.5, "color": "black"},
     "encoding": {"x": {"field": "x", "type": "quantitative", "scale": {"domain": [690, 1085], "nice": false, "zero": false}, "axis": null},
                  "y": {"field": "y", "type": "quantitative", "scale": {"domain": [53, 466], "reverse": true, "nice": false, "zero": false}, "axis": null},
                  "text": {"field": "t"}}},
    {"data": {"name": "btext"}, "transform": [{"filter": {"field": "role", "equal": "ri"}}],
     "mark": {"type": "text", "align": "right", "baseline": "middle", "font": "Lato", "fontWeight": "bold", "fontStyle": "italic", "fontSize": 13, "color": "black"},
     "encoding": {"x": {"field": "x", "type": "quantitative", "scale": {"domain": [690, 1085], "nice": false, "zero": false}, "axis": null},
                  "y": {"field": "y", "type": "quantitative", "scale": {"domain": [53, 466], "reverse": true, "nice": false, "zero": false}, "axis": null},
                  "text": {"field": "t"}}},
    {"data": {"name": "btext"}, "transform": [{"filter": {"field": "role", "equal": "l"}}],
     "mark": {"type": "text", "align": "left", "baseline": "middle", "font": "Lato", "fontWeight": "bold", "fontSize": 13, "color": "black"},
     "encoding": {"x": {"field": "x", "type": "quantitative", "scale": {"domain": [690, 1085], "nice": false, "zero": false}, "axis": null},
                  "y": {"field": "y", "type": "quantitative", "scale": {"domain": [53, 466], "reverse": true, "nice": false, "zero": false}, "axis": null},
                  "text": {"field": "t"}}},
    {"data": {"name": "dlab"}, "transform": [{"filter": {"field": "edge", "oneOf": ["li", "e", "d", "f"]}}],
     "mark": {"type": "text", "align": "center", "baseline": "middle", "font": "Lato", "fontWeight": "bold", "fontSize": 17, "color": "black"},
     "encoding": {"x": {"field": "x", "type": "quantitative", "scale": {"domain": [690, 1085], "nice": false, "zero": false}, "axis": null},
                  "y": {"field": "y", "type": "quantitative", "scale": {"domain": [53, 466], "reverse": true, "nice": false, "zero": false}, "axis": null},
                  "text": {"field": "t"}}},
    {"data": {"name": "dlab"}, "transform": [{"filter": {"field": "edge", "oneOf": ["g"]}}],
     "mark": {"type": "text", "align": "center", "baseline": "middle", "font": "Lato", "fontWeight": "bold", "fontSize": 15, "color": "black"},
     "encoding": {"x": {"field": "x", "type": "quantitative", "scale": {"domain": [690, 1085], "nice": false, "zero": false}, "axis": null},
                  "y": {"field": "y", "type": "quantitative", "scale": {"domain": [53, 466], "reverse": true, "nice": false, "zero": false}, "axis": null},
                  "text": {"field": "t"}}},
    {"data": {"name": "dlab"}, "transform": [{"filter": {"field": "edge", "oneOf": ["sl", "ir"]}}],
     "mark": {"type": "text", "align": "center", "baseline": "middle", "font": "Lato", "fontWeight": "bold", "fontSize": 17, "color": "black", "angle": 320},
     "encoding": {"x": {"field": "x", "type": "quantitative", "scale": {"domain": [690, 1085], "nice": false, "zero": false}, "axis": null},
                  "y": {"field": "y", "type": "quantitative", "scale": {"domain": [53, 466], "reverse": true, "nice": false, "zero": false}, "axis": null},
                  "text": {"field": "t"}}},
    {"data": {"name": "dlab"}, "transform": [{"filter": {"field": "edge", "oneOf": ["si", "lr"]}}],
     "mark": {"type": "text", "align": "center", "baseline": "middle", "font": "Lato", "fontWeight": "bold", "fontSize": 17, "color": "black", "angle": 40},
     "encoding": {"x": {"field": "x", "type": "quantitative", "scale": {"domain": [690, 1085], "nice": false, "zero": false}, "axis": null},
                  "y": {"field": "y", "type": "quantitative", "scale": {"domain": [53, 466], "reverse": true, "nice": false, "zero": false}, "axis": null},
                  "text": {"field": "t"}}},
    {"data": {"name": "dlab"}, "transform": [{"filter": {"field": "edge", "oneOf": ["sr"]}}],
     "mark": {"type": "text", "align": "center", "baseline": "middle", "font": "Lato", "fontWeight": "bold", "fontSize": 17, "color": "black", "angle": 90},
     "encoding": {"x": {"field": "x", "type": "quantitative", "scale": {"domain": [690, 1085], "nice": false, "zero": false}, "axis": null},
                  "y": {"field": "y", "type": "quantitative", "scale": {"domain": [53, 466], "reverse": true, "nice": false, "zero": false}, "axis": null},
                  "text": {"field": "t"}}}
   ]}
 ], "spacing": 5, "bounds": "flush"}
]
}
